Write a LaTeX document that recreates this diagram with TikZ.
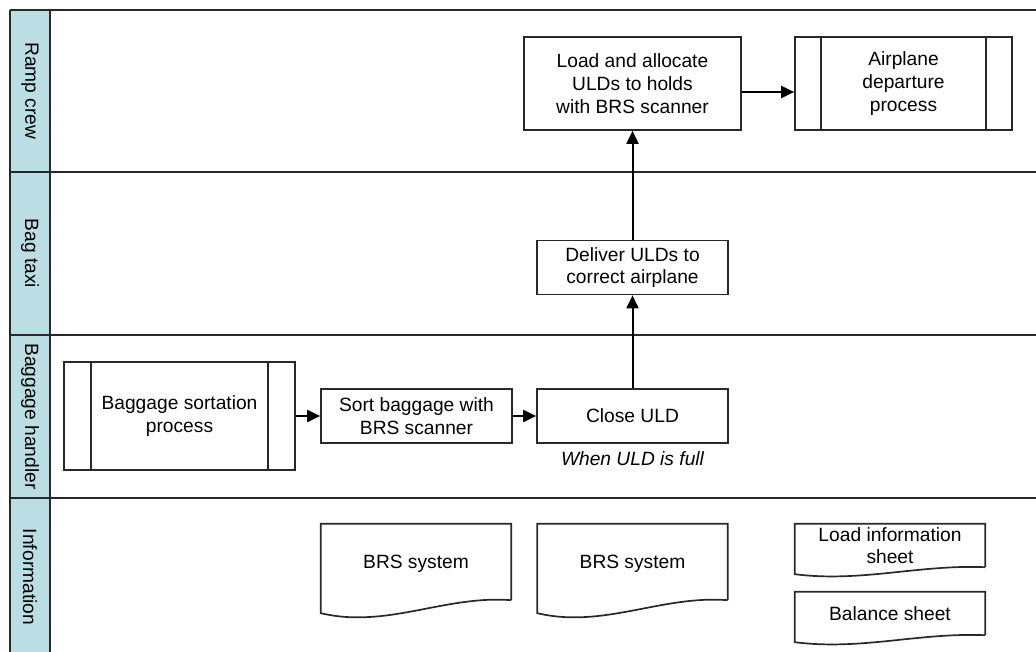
\documentclass[tikz,border=0pt]{standalone}
\usepackage{fontspec}
\setmainfont{Liberation Sans}
\usetikzlibrary{arrows.meta,calc}
\definecolor{lanefill}{RGB}{186,222,227}
\definecolor{edgegray}{RGB}{40,40,40}

% document symbol: flat top, wavy bottom that starts #2 below the node's south edge
\newcommand{\docoutline}[2]{%
  \draw[boxline] (#1.south east) -- (#1.north east) -- (#1.north west)
    -- ($(#1.south west)+(0,#2)$)
    .. controls ($(#1.south west)!0.35!(#1.south east)+(0,2.2*#2)$)
           and ($(#1.south west)!0.65!(#1.south east)+(0,-0.4*#2)$)
    .. (#1.south east);}

% predefined process: two inner vertical bars
\newcommand{\subbars}[2]{%
  \draw[boxline] ([xshift=#2]#1.north west) -- ([xshift=#2]#1.south west);
  \draw[boxline] ([xshift=-#2]#1.north east) -- ([xshift=-#2]#1.south east);}

\begin{document}
\begin{tikzpicture}[x=1pt,y=-1pt,
  every node/.style={font=\fontsize{19.2}{22.8}\selectfont, text=black},
  boxline/.style={draw=edgegray, line width=1.7pt},
  laneline/.style={draw=edgegray, line width=1.7pt},
  lanehead/.style={rotate=-90, inner sep=0pt},
  task/.style={boxline, fill=white, align=center, inner sep=0pt},
  docnode/.style={align=center, inner sep=0pt, minimum width=190pt, text depth=-2pt},
  flow/.style={draw=black, line width=2pt, -{Triangle[length=13pt,width=12pt]}},
  note/.style={font=\fontsize{19.2}{22.8}\selectfont\itshape}
]
\useasboundingbox (0,0) rectangle (1036,652);
\clip (0,0) rectangle (1036,652);
\fill[white] (0,0) rectangle (1036,652);

% swimlanes
\fill[lanefill] (10,10) rectangle (50,700);
\foreach \yy in {10,172,335,498}
  \draw[laneline] (10,\yy) -- (1050,\yy);
\draw[laneline] (10,10) -- (10,700);
\draw[laneline] (50,10) -- (50,700);

\node[lanehead] (hramp) at (30,91)    {Ramp crew};
\node[lanehead] (htaxi) at (30,253.5) {Bag taxi};
\node[lanehead] (hbag)  at (30,416.5) {Baggage handler};
\node[lanehead] (hinfo) at (30,577)   {Information};

% process steps
\node[task, minimum width=217pt, minimum height=93pt] (load) at (632.5,83.5)
  {Load and allocate\\ULDs to holds\\with BRS scanner};
\node[task, minimum width=217pt, minimum height=93pt] (air) at (903.5,83.5)
  {Airplane\\departure\\process};
\subbars{air}{27pt}

\node[task, minimum width=191pt, minimum height=54pt] (deliver) at (632.5,267.5)
  {Deliver ULDs to\\correct airplane};

\node[task, minimum width=231pt, minimum height=108pt] (sortproc) at (179.5,416)
  {Baggage sortation\\process};
\subbars{sortproc}{28pt}
\node[task, minimum width=191pt, minimum height=54pt] (sortbag) at (416.5,416)
  {Sort baggage with\\BRS scanner};
\node[task, minimum width=191pt, minimum height=54pt] (close) at (632.5,416)
  {Close ULD};
\node[note, anchor=north, inner sep=0pt] (whenfull) at ([yshift=-8pt]close.south)
  {When ULD is full};

% information documents
\node[docnode, minimum height=76pt] (brsa) at (416,562) {BRS system};
\docoutline{brsa}{13}
\node[docnode, minimum height=76pt] (brsb) at (632.5,562) {BRS system};
\docoutline{brsb}{13}
\node[docnode, minimum height=43pt] (loadinfo) at (890,545.5) {Load information\\sheet};
\docoutline{loadinfo}{7}
\node[docnode, minimum height=43pt] (balance) at (890,613.5) {Balance sheet};
\docoutline{balance}{7}

% flow
\draw[flow] (sortproc.east) -- (sortbag.west);
\draw[flow] (sortbag.east) -- (close.west);
\draw[flow] (close.north) -- (deliver.south);
\draw[flow] (deliver.north) -- (load.south);
\draw[flow] ([yshift=-8.5pt]load.east) -- ([yshift=-8.5pt]air.west);
\end{tikzpicture}
\end{document}
